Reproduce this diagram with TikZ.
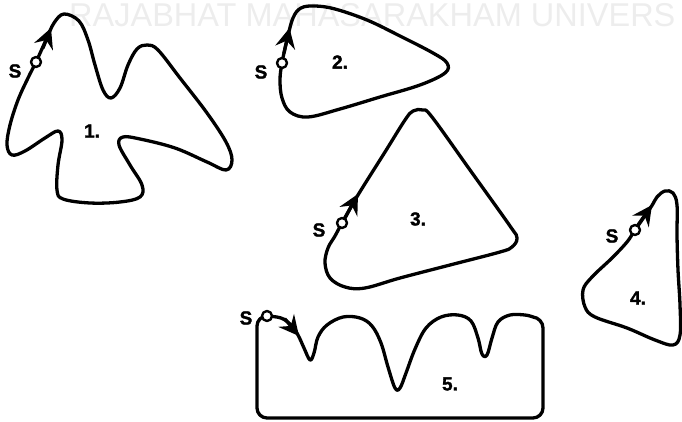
\documentclass[tikz,border=0pt]{standalone}
\usepackage{fontspec}
\setmainfont{Liberation Sans}
\newfontfamily\labfont[BoldFeatures={FakeBold=1.5}]{Liberation Sans}
\usetikzlibrary{arrows.meta}
\begin{document}
\begin{tikzpicture}[x=1pt,y=-1pt, line join=round, line cap=round,
  outline/.style={draw=black, line width=3.3pt},
  startpt/.style={circle, draw=black, fill=white, line width=2.4pt, inner sep=0pt, minimum size=10pt},
  dirarrow/.style={-{Stealth[length=20pt,width=20pt,inset=7pt]}, line width=3.3pt},
  lab/.style={font=\labfont\bfseries\fontsize{19}{19}\selectfont, inner sep=0pt},
  wm/.style={text=black!7, font=\fontsize{33}{33}\selectfont, inner sep=0pt, anchor=base west, xscale=0.985}]
\useasboundingbox (0,0) rectangle (682,422);
\node[wm] (wmark) at (69,27) {RAJABHAT MAHASARAKHAM UNIVERS};

% shape 1
\draw[outline] plot[smooth cycle, tension=0.6] coordinates {(64,14) (79,21) (88,40) (95,65) (103,90) (111,98) (120,88) (128,65) (137,49) (147,45) (158,50) (180,78) (207,113) (226,142) (232,160) (226,170) (207,162) (175,148) (140,139) (123,137) (119,145) (130,165) (142,185) (140,197) (120,202) (90,203) (63,199) (57,190) (58,165) (62,140) (58,131) (45,138) (25,151) (12,155) (7,145) (10,125) (18,100) (28,78) (36,62) (46,40) (54,23)};
\draw[dirarrow] (43,48) -- (51,28);
\node[startpt] (s1) at (36,62) {};
\node[lab] (l1) at (15,71) {S};
\node[lab] (n1) at (92,131) {1.};

% shape 2
\draw[outline] plot[smooth cycle, tension=0.6] coordinates {(282,63) (287,40) (293,18) (301,8) (315,6) (335,9) (367,20) (400,36) (433,53) (447,63) (445,73) (420,85) (380,97) (340,109) (308,117) (290,112) (282,98) (280,80)};
\draw[dirarrow] (284,53) -- (289.5,28);
\node[startpt] (s2) at (282,63) {};
\node[lab] (l2) at (261,72) {S};
\node[lab] (n2) at (340,62) {2.};

% shape 3
\draw[outline] plot[smooth cycle, tension=0.6] coordinates {(342,223) (358,195) (385,152) (405,120) (413,111) (423,110) (432,117) (470,170) (510,226) (517,238) (512,247) (500,252) (450,265) (400,278) (365,288) (345,287) (330,278) (325,263) (328,248) (335,236)};
\draw[dirarrow] (345,218) -- (358,194);
\node[startpt] (s3) at (342,223) {};
\node[lab] (l3) at (319,230) {S};
\node[lab] (n3) at (418,219) {3.};

% shape 4
\draw[outline] plot[smooth cycle, tension=0.6] coordinates {(635,230) (651,207) (657,197) (665,191) (673,193) (677,205) (677,235) (678,270) (680,305) (680,335) (673,345) (655,340) (627,328) (595,317) (585,307) (583,290) (592,277) (612,258) (627,242)};
\draw[dirarrow] (638,225) -- (652,205);
\node[startpt] (s4) at (635,230) {};
\node[lab] (l4) at (612,236) {S};
\node[lab] (n4) at (638,298) {4.};

% shape 5
\draw[outline] plot[smooth, tension=0.6] coordinates {(267,316) (281,318) (291,325) (298,335) (304,348) (310,360) (314,353) (318,337) (327,325) (343,317) (360,318) (372,326) (381,343) (388,367) (395,388) (400,388) (406,373) (415,349) (426,328) (441,317) (458,315) (471,321) (478,338) (482,354) (487,355) (492,338) (498,322) (510,315) (525,315) (533,317)} [rounded corners=10pt] -- (543,318) -- (543,418) -- (257,418) -- (257,316) -- (267,316);
\draw[dirarrow] (285,319) -- (299,336);
\node[startpt] (s5) at (267,316) {};
\node[lab] (l5) at (246,318) {S};
\node[lab] (n5) at (450,384) {5.};
\end{tikzpicture}
\end{document}
